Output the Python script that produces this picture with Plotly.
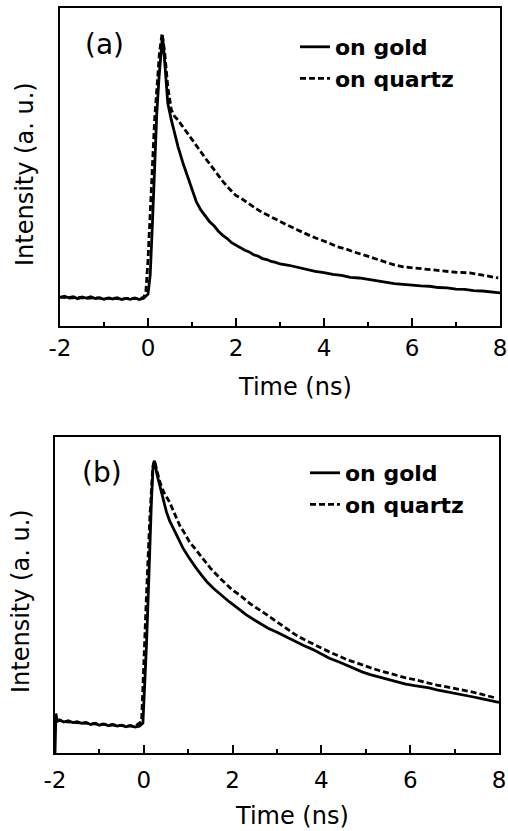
import plotly.graph_objects as go

# ---------------- data ----------------
X_TICKS = [-2, 0, 2, 4, 6, 8]
X_TICK_LABELS = ["-2", "0", "2", "4", "6", "8"]
X_MINOR = [-1, 1, 3, 5, 7]

# Panel (a)
A_GOLD_T = [-2.0, -1.9, -1.8, -1.7, -1.6, -1.5, -1.4, -1.3, -1.2, -1.1, -1.0, -0.9, -0.8, -0.7,
            -0.6, -0.5, -0.4, -0.3, -0.2, -0.1, 0.0, 0.05, 0.1, 0.15, 0.2, 0.25, 0.3, 0.33, 0.38,
            0.45, 0.53, 0.6, 0.68, 0.8, 0.9, 1.0, 1.1, 1.2, 1.3, 1.4, 1.5, 1.6, 1.7, 1.8, 1.9,
            2.0, 2.1, 2.2, 2.3, 2.4, 2.5, 2.6, 2.7, 2.8, 2.9, 3.0, 3.2, 3.4, 3.6, 3.8, 4.0, 4.2,
            4.4, 4.6, 4.8, 5.0, 5.2, 5.4, 5.6, 5.8, 6.0, 6.2, 6.4, 6.6, 6.8, 7.0, 7.2, 7.4, 7.6,
            7.8, 8.0]
A_GOLD_I = [0.090, 0.094, 0.089, 0.092, 0.086, 0.091, 0.088, 0.092, 0.086, 0.089, 0.084, 0.088,
            0.085, 0.089, 0.083, 0.087, 0.084, 0.088, 0.083, 0.087, 0.100, 0.160, 0.320, 0.520,
            0.670, 0.780, 0.880, 0.915, 0.830, 0.700, 0.648, 0.605, 0.565, 0.510, 0.470, 0.430,
            0.390, 0.365, 0.345, 0.328, 0.315, 0.298, 0.285, 0.275, 0.262, 0.254, 0.246, 0.238,
            0.233, 0.224, 0.220, 0.212, 0.209, 0.203, 0.200, 0.195, 0.191, 0.184, 0.179, 0.172,
            0.168, 0.162, 0.159, 0.153, 0.151, 0.146, 0.141, 0.138, 0.133, 0.131, 0.128, 0.126,
            0.125, 0.121, 0.120, 0.116, 0.115, 0.111, 0.110, 0.107, 0.104]

A_QUARTZ_T = [-2.0, -1.8, -1.6, -1.4, -1.2, -1.0, -0.8, -0.6, -0.4, -0.2, -0.1, -0.05, 0.0,
              0.075, 0.15, 0.26, 0.32, 0.38, 0.45, 0.53, 0.6, 0.68, 0.8, 0.9, 1.0, 1.13, 1.2,
              1.28, 1.4, 1.51, 1.6, 1.7, 1.81, 1.9, 2.0, 2.1, 2.26, 2.4, 2.5, 2.6, 2.79, 2.9,
              3.0, 3.2, 3.4, 3.54, 3.7, 3.9, 4.1, 4.3, 4.5, 4.7, 4.9, 5.05, 5.2, 5.4, 5.6, 5.8,
              6.0, 6.2, 6.4, 6.56, 6.8, 7.0, 7.31, 7.5, 7.7, 7.96]
A_QUARTZ_I = [0.091, 0.088, 0.090, 0.087, 0.089, 0.086, 0.088, 0.085, 0.087, 0.086, 0.090,
              0.105, 0.207, 0.437, 0.648, 0.858, 0.920, 0.860, 0.752, 0.680, 0.660, 0.648,
              0.625, 0.607, 0.590, 0.563, 0.548, 0.532, 0.510, 0.490, 0.470, 0.455, 0.437,
              0.425, 0.410, 0.403, 0.387, 0.375, 0.365, 0.357, 0.343, 0.337, 0.328, 0.315,
              0.302, 0.292, 0.283, 0.272, 0.262, 0.249, 0.242, 0.232, 0.222, 0.217, 0.210,
              0.200, 0.192, 0.186, 0.183, 0.180, 0.178, 0.176, 0.172, 0.169, 0.167, 0.163,
              0.158, 0.151]

# Panel (b)
B_GOLD_T = [-2.0, -1.98, -1.95, -1.9, -1.8, -1.7, -1.6, -1.5, -1.4, -1.3, -1.2, -1.1, -1.0,
            -0.9, -0.8, -0.7, -0.6, -0.5, -0.4, -0.3, -0.2, -0.1, -0.02, 0.02, 0.06, 0.1,
            0.135, 0.17, 0.21, 0.24, 0.3, 0.36, 0.43, 0.51, 0.58, 0.66, 0.77, 0.88, 1.0, 1.1,
            1.18, 1.3, 1.42, 1.56, 1.7, 1.8, 1.93, 2.1, 2.2, 2.31, 2.5, 2.68, 2.8, 3.0, 3.2,
            3.43, 3.6, 3.8, 4.0, 4.18, 4.4, 4.6, 4.8, 4.93, 5.1, 5.3, 5.5, 5.68, 5.9, 6.1, 6.3,
            6.43, 6.6, 6.8, 7.0, 7.18, 7.4, 7.6, 7.8, 7.93, 8.0]
B_GOLD_I = [0.000, 0.125, 0.100, 0.105, 0.098, 0.102, 0.096, 0.099, 0.094, 0.097, 0.090,
            0.094, 0.088, 0.092, 0.086, 0.090, 0.085, 0.088, 0.083, 0.087, 0.082, 0.085,
            0.095, 0.200, 0.340, 0.500, 0.658, 0.790, 0.911, 0.925, 0.880, 0.848, 0.805,
            0.763, 0.735, 0.712, 0.680, 0.649, 0.622, 0.600, 0.585, 0.563, 0.542, 0.522,
            0.505, 0.492, 0.478, 0.460, 0.448, 0.437, 0.420, 0.405, 0.395, 0.382, 0.368,
            0.351, 0.340, 0.328, 0.313, 0.300, 0.288, 0.275, 0.262, 0.256, 0.248, 0.240,
            0.232, 0.225, 0.218, 0.213, 0.209, 0.206, 0.200, 0.195, 0.190, 0.184, 0.178,
            0.172, 0.166, 0.162, 0.160]

B_QUARTZ_T = [-1.98, -1.8, -1.6, -1.4, -1.2, -1.0, -0.8, -0.6, -0.4, -0.2, -0.05, -0.015, 0.06,
              0.135, 0.2, 0.24, 0.3, 0.36, 0.45, 0.58, 0.7, 0.81, 0.92, 1.03, 1.18, 1.33, 1.5,
              1.71, 1.9, 2.0, 2.16, 2.4, 2.68, 2.9, 3.1, 3.25, 3.43, 3.6, 3.8, 4.0, 4.18, 4.4,
              4.6, 4.8, 4.93, 5.1, 5.3, 5.5, 5.68, 5.9, 6.1, 6.3, 6.43, 6.6, 6.8, 7.0, 7.18,
              7.4, 7.6, 7.8, 7.93]
B_QUARTZ_I = [0.105, 0.100, 0.097, 0.095, 0.092, 0.090, 0.088, 0.086, 0.085, 0.084, 0.100,
              0.237, 0.500, 0.743, 0.900, 0.925, 0.890, 0.858, 0.825, 0.794, 0.755, 0.720,
              0.695, 0.668, 0.642, 0.617, 0.585, 0.554, 0.528, 0.515, 0.500, 0.472, 0.446,
              0.425, 0.405, 0.390, 0.373, 0.360, 0.345, 0.332, 0.320, 0.306, 0.294, 0.285,
              0.278, 0.270, 0.261, 0.253, 0.247, 0.238, 0.232, 0.225, 0.220, 0.215, 0.210,
              0.205, 0.200, 0.193, 0.186, 0.179, 0.174]

SERIES_NAMES = ["on gold", "on quartz"]
PANEL_LABELS = ["(a)", "(b)"]
X_TITLE = "Time (ns)"
Y_TITLE = "Intensity (a. u.)"

# ---------------- figure ----------------
W, H = 508, 831
FONT = "DejaVu Sans"


def px(x):
    return x / W


def py(y):
    return 1 - y / H


fig = go.Figure()
line_w = 2.8
dash = "6px,3px"

fig.add_trace(go.Scatter(x=A_GOLD_T, y=A_GOLD_I, mode="lines", name=SERIES_NAMES[0],
                         line=dict(color="black", width=line_w), xaxis="x", yaxis="y",
                         legend="legend"))
fig.add_trace(go.Scatter(x=A_QUARTZ_T, y=A_QUARTZ_I, mode="lines", name=SERIES_NAMES[1],
                         line=dict(color="black", width=line_w, dash=dash), xaxis="x",
                         yaxis="y", legend="legend"))
fig.add_trace(go.Scatter(x=B_GOLD_T, y=B_GOLD_I, mode="lines", name=SERIES_NAMES[0],
                         line=dict(color="black", width=line_w), xaxis="x2", yaxis="y2",
                         legend="legend2"))
fig.add_trace(go.Scatter(x=B_QUARTZ_T, y=B_QUARTZ_I, mode="lines", name=SERIES_NAMES[1],
                         line=dict(color="black", width=line_w, dash=dash), xaxis="x2",
                         yaxis="y2", legend="legend2"))


def xaxis(domain, anchor, standoff):
    return dict(domain=domain, anchor=anchor, range=[-2, 8], tickmode="array",
                tickvals=X_TICKS, ticktext=X_TICK_LABELS, ticks="inside", ticklen=8,
                tickwidth=2, tickcolor="black", showline=True, linewidth=2, linecolor="black",
                mirror=True, showgrid=False, zeroline=False, ticklabeloverflow="allow",
                ticklabelstandoff=standoff,
                tickfont=dict(family=FONT, size=23, color="black"),
                minor=dict(tickvals=X_MINOR, ticks="inside", ticklen=4, tickwidth=2,
                           tickcolor="black", showgrid=False),
                fixedrange=True)


def yaxis(domain, anchor):
    return dict(domain=domain, anchor=anchor, range=[0, 1], showticklabels=False, ticks="",
                showline=True, linewidth=2, linecolor="black", mirror=True, showgrid=False,
                zeroline=False, fixedrange=True)


legend_common = dict(font=dict(family=FONT, size=22, color="black", weight="bold"),
                     bgcolor="rgba(0,0,0,0)", borderwidth=0, xanchor="left", yanchor="top",
                     tracegroupgap=0, itemwidth=30)

ann_font = dict(family=FONT, size=24, color="black")
center = dict(xref="paper", yref="paper", showarrow=False, xanchor="center", yanchor="middle")
annotations = [
    dict(text=PANEL_LABELS[0], x=px(104), y=py(45),
         font=dict(family=FONT, size=28, color="black"), **center),
    dict(text=PANEL_LABELS[1], x=px(102), y=py(472),
         font=dict(family=FONT, size=28, color="black"), **center),
    dict(text=X_TITLE, x=px(295), y=py(387), font=ann_font, **center),
    dict(text=X_TITLE, x=px(292), y=py(816), font=ann_font, **center),
    dict(text=Y_TITLE, x=px(25), y=py(174), textangle=-90, font=ann_font, **center),
    dict(text=Y_TITLE, x=px(21), y=py(601), textangle=-90, font=ann_font, **center),
]

fig.update_layout(
    width=W, height=H,
    margin=dict(l=0, r=0, t=0, b=0, autoexpand=False),
    paper_bgcolor="white", plot_bgcolor="white",
    xaxis=xaxis([px(60), px(500)], "y", 0),
    yaxis=yaxis([py(326), py(8)], "x"),
    xaxis2=xaxis([px(55), px(499)], "y2", 5),
    yaxis2=yaxis([py(753), py(437)], "x2"),
    legend=dict(x=px(295), y=py(26), **legend_common),
    legend2=dict(x=px(305), y=py(452), **legend_common),
    annotations=annotations,
    showlegend=True,
)

fig.write_html("out.html", config={"displayModeBar": False})
